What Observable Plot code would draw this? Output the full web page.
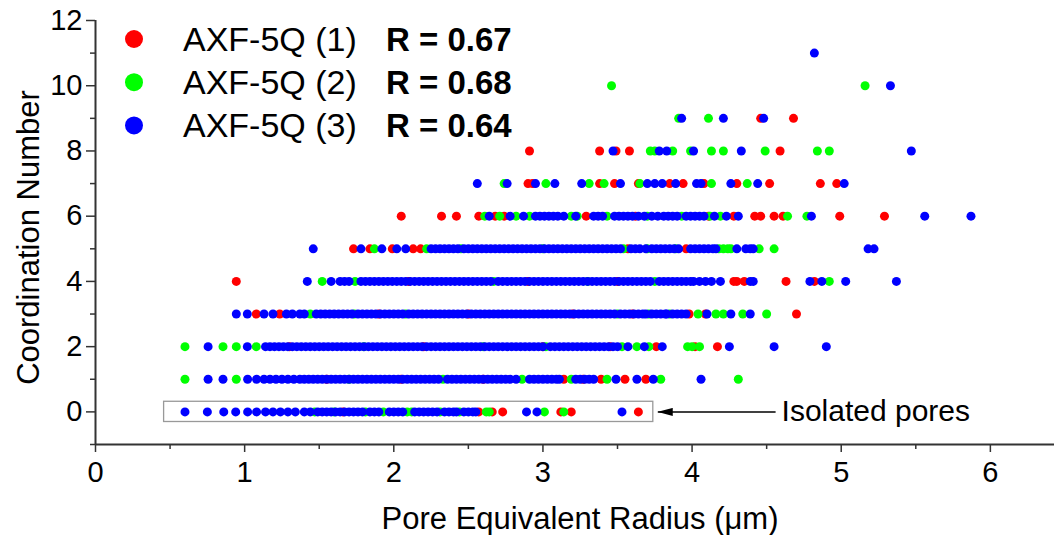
<!DOCTYPE html>
<html>
<head>
<meta charset="utf-8">
<script src="https://cdn.jsdelivr.net/npm/d3@7"></script>
<script src="https://cdn.jsdelivr.net/npm/@observablehq/plot@0.6"></script>
<style>
  html, body { margin: 0; padding: 0; background: #fff; }
  #chart { width: 1054px; height: 535px; }
</style>
</head>
<body>
<div id="chart"></div>
<script>
// ---------------- data ----------------
const seriesNames = ["AXF-5Q (1)", "AXF-5Q (2)", "AXF-5Q (3)"];
const seriesR = ["R = 0.67", "R = 0.68", "R = 0.64"];
const seriesColors = ["#ff0000", "#00ff00", "#0000ff"];

// index in each list = coordination number (0..11); values = pore equivalent radius (µm)
const redRows = [
  [1.66, 2.57, 2.66, 2.73, 3.12, 3.19, 3.64],
  [1.55, 2.05, 2.60, 3.14, 3.27, 3.39, 3.55, 3.69],
  [1.30, 2.20, 3.00, 3.45, 3.76, 4.02, 4.17],
  [1.078, 1.235, 1.90, 2.50, 3.20, 3.60, 3.98, 4.09, 4.70],
  [0.944, 2.10, 2.90, 3.50, 4.28, 4.30, 4.35, 4.63, 4.82],
  [1.73, 1.84, 1.99, 2.13, 2.18, 3.57, 3.96],
  [2.05, 2.32, 2.42, 2.57, 2.68, 2.74, 3.29, 3.62, 4.11, 4.28, 4.42, 4.46, 4.55, 4.61, 4.99, 5.29],
  [2.90, 2.93, 3.38, 3.48, 3.64, 3.85, 3.94, 4.08, 4.30, 4.52, 4.86, 4.97],
  [2.91, 3.38, 3.49, 3.58, 4.59],
  [4.46, 4.68],
  [],
  []
];
const greenRows = [
  [1.47, 1.60, 1.81, 1.93, 2.09, 2.12, 2.31, 2.44, 2.62, 2.64, 3.01, 3.14],
  [0.60, 0.944, 1.70, 2.33, 2.86, 3.19, 3.43, 3.79, 4.31],
  [0.60, 0.855, 0.944, 1.078, 1.80, 2.60, 3.02, 3.53, 3.63, 3.71, 3.97, 4.00, 4.05],
  [1.44, 1.735, 2.08, 3.50, 3.71, 3.85, 4.04, 4.16, 4.21, 4.34, 4.50],
  [1.52, 1.74, 2.67, 3.30, 3.75, 4.92],
  [1.87, 2.22, 2.45, 3.00, 3.54, 3.70, 3.89, 4.18, 4.21, 4.24, 4.26, 4.45, 4.55],
  [2.61, 2.71, 2.82, 2.91, 3.19, 3.23, 3.43, 3.70, 3.93, 4.12, 4.19, 4.64, 4.77],
  [2.74, 3.02, 3.31, 3.41, 3.65, 4.13, 4.37],
  [3.72, 3.75, 3.87, 3.99, 4.13, 4.21, 4.49, 4.84, 4.92],
  [3.91, 4.11],
  [3.46, 5.16],
  []
];
const blueRows = [
  [0.60, 0.75, 0.86, 0.94, 1.02, 1.08, 1.14, 1.19, 1.24, 1.29, 1.34, 1.40, 1.44, 1.49, 1.52, 1.55, 1.58, 1.61, 1.64, 1.67, 1.70, 1.73, 1.76, 1.79, 1.84, 1.87, 1.90, 1.97, 2.00, 2.03, 2.06, 2.14, 2.17, 2.20, 2.23, 2.26, 2.29, 2.34, 2.37, 2.40, 2.42, 2.47, 2.50, 2.53, 2.55, 2.89, 2.96, 3.53],
  [0.755, 0.855, 1.02, 1.08, 1.13, 1.17, 1.21, 1.25, 1.29, 1.33, 1.37, 1.40, 1.43, 1.46, 1.49, 1.52, 1.55, 1.58, 1.61, 1.64, 1.67, 1.70, 1.73, 1.76, 1.79, 1.82, 1.85, 1.88, 1.91, 1.94, 1.97, 2.00, 2.03, 2.06, 2.09, 2.12, 2.15, 2.18, 2.21, 2.24, 2.27, 2.30, 2.36, 2.39, 2.42, 2.45, 2.48, 2.51, 2.54, 2.57, 2.60, 2.63, 2.66, 2.69, 2.72, 2.75, 2.78, 2.82, 2.91, 2.94, 2.97, 3.00, 3.03, 3.06, 3.09, 3.11, 3.22, 3.25, 3.28, 3.31, 3.34, 3.49, 3.63, 3.74, 4.06],
  [0.755, 1.018, 1.14, 1.17, 1.20, 1.23, 1.26, 1.29, 1.32, 1.35, 1.38, 1.41, 1.44, 1.47, 1.50, 1.53, 1.56, 1.59, 1.62, 1.65, 1.68, 1.71, 1.74, 1.77, 1.80, 1.83, 1.86, 1.89, 1.92, 1.95, 1.98, 2.01, 2.04, 2.07, 2.10, 2.13, 2.16, 2.19, 2.22, 2.25, 2.28, 2.31, 2.34, 2.37, 2.40, 2.43, 2.46, 2.49, 2.52, 2.55, 2.58, 2.61, 2.64, 2.67, 2.70, 2.73, 2.76, 2.79, 2.82, 2.85, 2.88, 2.91, 2.94, 2.97, 3.00, 3.05, 3.08, 3.11, 3.14, 3.17, 3.20, 3.23, 3.26, 3.29, 3.32, 3.35, 3.38, 3.41, 3.44, 3.47, 3.50, 3.57, 3.68, 3.80, 4.25, 4.55, 4.90],
  [0.944, 1.018, 1.13, 1.19, 1.28, 1.32, 1.37, 1.40, 1.48, 1.51, 1.54, 1.57, 1.60, 1.63, 1.66, 1.69, 1.72, 1.76, 1.79, 1.82, 1.85, 1.88, 1.91, 1.94, 1.97, 2.00, 2.03, 2.06, 2.10, 2.13, 2.16, 2.19, 2.22, 2.25, 2.28, 2.31, 2.34, 2.37, 2.40, 2.43, 2.46, 2.49, 2.52, 2.55, 2.58, 2.61, 2.64, 2.67, 2.70, 2.73, 2.76, 2.79, 2.82, 2.85, 2.88, 2.91, 2.94, 2.97, 3.00, 3.03, 3.06, 3.09, 3.12, 3.15, 3.18, 3.21, 3.24, 3.27, 3.30, 3.33, 3.36, 3.39, 3.42, 3.45, 3.48, 3.52, 3.55, 3.58, 3.61, 3.64, 3.67, 3.69, 3.73, 3.76, 3.79, 3.82, 3.83, 3.87, 3.90, 3.93, 3.96, 4.10, 4.26, 4.39],
  [1.42, 1.58, 1.64, 1.67, 1.70, 1.78, 1.81, 1.84, 1.87, 1.90, 1.93, 1.96, 1.99, 2.02, 2.05, 2.08, 2.11, 2.14, 2.17, 2.20, 2.23, 2.26, 2.29, 2.32, 2.35, 2.38, 2.41, 2.44, 2.47, 2.50, 2.53, 2.56, 2.59, 2.62, 2.65, 2.70, 2.73, 2.76, 2.79, 2.82, 2.85, 2.88, 2.91, 2.94, 2.97, 3.00, 3.03, 3.06, 3.09, 3.12, 3.15, 3.18, 3.21, 3.24, 3.27, 3.30, 3.33, 3.36, 3.39, 3.42, 3.45, 3.48, 3.51, 3.54, 3.57, 3.60, 3.63, 3.66, 3.69, 3.72, 3.78, 3.81, 3.84, 3.87, 3.90, 3.93, 3.96, 3.99, 4.01, 4.05, 4.09, 4.13, 4.19, 4.39, 4.41, 4.79, 4.87, 5.03, 5.37],
  [1.46, 1.78, 1.92, 2.02, 2.08, 2.25, 2.28, 2.31, 2.34, 2.37, 2.40, 2.43, 2.47, 2.50, 2.53, 2.56, 2.59, 2.62, 2.65, 2.68, 2.71, 2.74, 2.77, 2.80, 2.83, 2.86, 2.89, 2.92, 2.95, 2.98, 3.01, 3.04, 3.07, 3.10, 3.13, 3.16, 3.19, 3.22, 3.25, 3.28, 3.31, 3.34, 3.37, 3.40, 3.43, 3.46, 3.49, 3.52, 3.59, 3.62, 3.65, 3.69, 3.73, 3.76, 3.79, 3.82, 3.85, 3.88, 3.91, 3.99, 4.02, 4.05, 4.08, 4.11, 4.14, 4.16, 4.30, 4.36, 4.39, 4.41, 5.18, 5.22],
  [2.64, 2.78, 2.87, 2.95, 2.98, 3.01, 3.04, 3.07, 3.10, 3.14, 3.22, 3.34, 3.37, 3.40, 3.48, 3.51, 3.54, 3.57, 3.60, 3.64, 3.68, 3.73, 3.77, 3.81, 3.84, 3.87, 3.90, 3.96, 3.99, 4.02, 4.05, 4.08, 4.15, 4.23, 4.31, 4.80, 5.56, 5.87],
  [2.56, 2.76, 2.95, 3.08, 3.26, 3.52, 3.70, 3.75, 3.80, 3.89, 4.03, 4.06, 4.26, 4.44, 5.02],
  [3.47, 3.78, 3.83, 4.01, 4.33, 5.47],
  [3.93, 4.21, 4.48],
  [5.33],
  [4.82]
];

// axis ticks and labels
const xMajorTicks = [0, 1, 2, 3, 4, 5, 6];
const xMinorTicks = [0.5, 1.5, 2.5, 3.5, 4.5, 5.5];
const yMajorTicks = [0, 2, 4, 6, 8, 10, 12];
const yMinorTicks = [-1, 1, 3, 5, 7, 9, 11];
const xTitle = "Pore Equivalent Radius (\u03bcm)";
const yTitle = "Coordination Number";

// annotation
const annotationText = ["Isolated pores"];
const isolatedBox = [{x1: 0.46, x2: 3.74, y1: -0.31, y2: 0.31}];
const isolatedArrow = [{x1: 4.56, x2: 3.77, y: 0}];

// ---------------- build ----------------
function toPoints(rows) {
  const out = [];
  rows.forEach((xs, cn) => xs.forEach(x => out.push({x, cn})));
  return out;
}
const allRows = [redRows, greenRows, blueRows];
const pointSets = allRows.map(toPoints);

const font = "'Liberation Sans', Arial, Helvetica, sans-serif";
const axisColor = "#333";

function filledArrowHead(color) {
  const m = d3.create("svg:marker")
    .attr("viewBox", "-15 -4 15 8")
    .attr("markerWidth", 15)
    .attr("markerHeight", 8)
    .attr("markerUnits", "userSpaceOnUse")
    .attr("refX", 0)
    .attr("refY", 0)
    .attr("orient", "auto");
  m.append("path").attr("d", "M-15,-4L0,0L-15,4Z").attr("fill", color).attr("stroke", "none");
  return m.node();
}

const chart = Plot.plot({
  width: 1054,
  height: 535,
  marginLeft: 95,
  marginRight: 0,
  marginTop: 20,
  marginBottom: 91,
  x: {domain: [0, 6.43]},
  y: {domain: [-1, 12]},
  style: {fontFamily: font, color: "black", background: "white", overflow: "visible"},
  marks: [
    Plot.rect(isolatedBox, {x1: "x1", x2: "x2", y1: "y1", y2: "y2", fill: "white", stroke: "#999", strokeWidth: 1.3}),
    ...pointSets.map((pts, i) => Plot.dot(pts, {x: "x", y: "cn", r: 4.5, fill: seriesColors[i], stroke: "none"})),
    Plot.link(isolatedArrow, {x1: "x1", x2: "x2", y1: "y", y2: "y", stroke: "black", strokeWidth: 1.5, markerEnd: filledArrowHead}),
    Plot.text(annotationText, {x: 4.60, y: 0, text: d => d, textAnchor: "start", lineAnchor: "middle", fontSize: 30, fill: "black"}),
    Plot.ruleX([0], {stroke: axisColor, strokeWidth: 2}),
    Plot.ruleY([-1], {stroke: axisColor, strokeWidth: 2}),
    Plot.axisY(yMajorTicks, {anchor: "left", tickSize: 9, tickPadding: 4, fontSize: 29, stroke: axisColor, strokeWidth: 1.5, label: null, tickFormat: d => String(d)}),
    Plot.axisY(yMinorTicks, {anchor: "left", tickSize: 5, text: null, stroke: axisColor, strokeWidth: 1.5, label: null}),
    Plot.axisX(xMajorTicks, {anchor: "bottom", tickSize: 8, tickPadding: 9, fontSize: 29, stroke: axisColor, strokeWidth: 1.5, label: null, tickFormat: d => String(d)}),
    Plot.axisX(xMinorTicks, {anchor: "bottom", tickSize: 5, text: null, stroke: axisColor, strokeWidth: 1.5, label: null}),
    Plot.text([xTitle], {frameAnchor: "bottom", dx: 5, dy: 84, lineAnchor: "bottom", textAnchor: "middle", fontSize: 31, fill: "black"}),
    Plot.text([yTitle], {frameAnchor: "left", rotate: -90, dx: -57, dy: 5, lineAnchor: "bottom", textAnchor: "middle", fontSize: 31, fill: "black"})
  ]
});

// legend (inside the plot, top-left)
const svg = d3.select(chart);
const lg = svg.append("g").attr("font-family", font).attr("text-anchor", "start");
seriesNames.forEach((name, i) => {
  const cy = 39 + i * 43.2;
  lg.append("circle").attr("cx", 134).attr("cy", cy).attr("r", 9).attr("fill", seriesColors[i]);
  lg.append("text").attr("x", 183).attr("y", cy + 12).attr("text-anchor", "start").attr("font-size", 34).attr("fill", "black").text(name);
  lg.append("text").attr("x", 386).attr("y", cy + 12).attr("text-anchor", "start").attr("font-size", 33).attr("font-weight", "bold").attr("fill", "black").text(seriesR[i]);
});

document.getElementById("chart").appendChild(chart);
</script>
</body>
</html>
